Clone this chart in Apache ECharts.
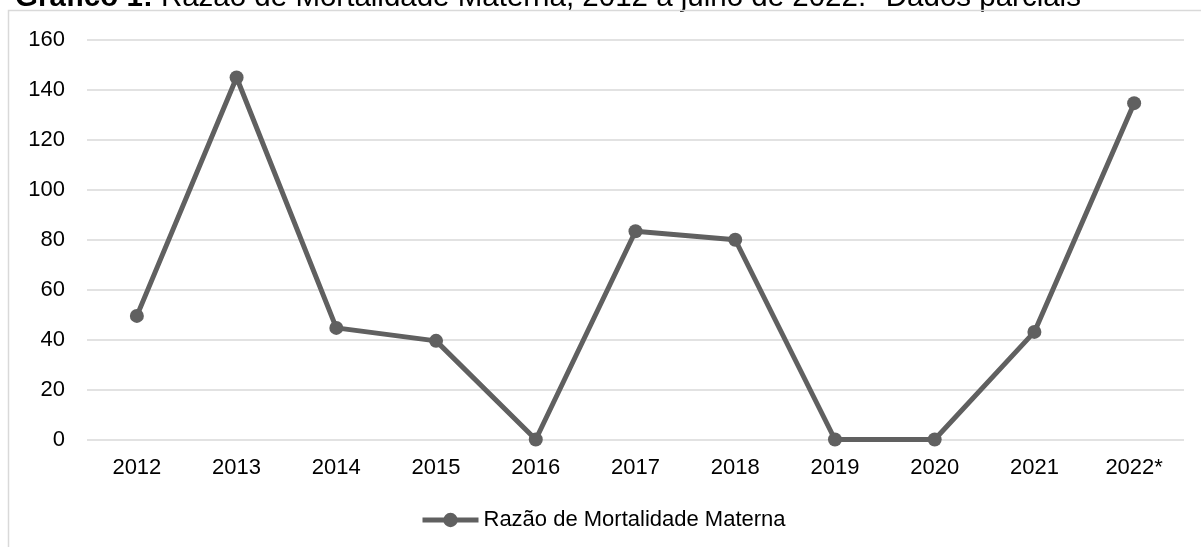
<!DOCTYPE html>
<html>
<head>
<meta charset="utf-8">
<script src="https://cdn.jsdelivr.net/npm/echarts@6/dist/echarts.min.js"></script>
<style>html,body{margin:0;padding:0;background:#fff}#c{width:1201px;height:547px}</style>
</head>
<body>
<div id="c"></div>
<script>
const categories = ['2012','2013','2014','2015','2016','2017','2018','2019','2020','2021','2022*'];
const values = [49.5, 145, 44.7, 39.5, 0, 83.4, 80, 0, 0, 43.1, 134.7];
const seriesName = 'Razão de Mortalidade Materna';
const FONT = '"Liberation Sans", Arial, sans-serif';
const chart = echarts.init(document.getElementById('c'));
chart.setOption({
  animation: false,
  title: {
    left: 15, top: -17, padding: 0,
    text: '{b|Gráfico 1:} Razão de Mortalidade Materna, 2012 a julho de 2022. *Dados parciais',
    textStyle: {
      fontFamily: FONT, fontSize: 29.5, fontWeight: 'normal', color: '#000', lineHeight: 30,
      rich: { b: { fontFamily: FONT, fontSize: 29.5, fontWeight: 'bold', color: '#000', lineHeight: 30 } }
    }
  },
  graphic: [{
    type: 'polyline', silent: true, z: 100,
    shape: { points: [[8.5, 547], [8.5, 10.5], [1201, 10.5]] },
    style: { stroke: '#d9d9d9', lineWidth: 1.5, fill: null }
  }],
  grid: { left: 87, right: 17, top: 40, bottom: 107.5 },
  xAxis: {
    type: 'category', data: categories, boundaryGap: true,
    axisLine: { show: false }, axisTick: { show: false },
    axisLabel: { fontFamily: FONT, fontSize: 22, color: '#000', margin: 17 }
  },
  yAxis: {
    type: 'value', min: 0, max: 160, interval: 20,
    axisLine: { show: false }, axisTick: { show: false },
    axisLabel: { fontFamily: FONT, fontSize: 22, color: '#000', margin: 22 },
    splitLine: { lineStyle: { color: '#d9d9d9', width: 1.5 } }
  },
  legend: {
    left: 420, top: 509, padding: 0, itemWidth: 56, itemHeight: 18, itemGap: 6,
    data: [seriesName],
    lineStyle: { width: 5, color: '#606060' },
    itemStyle: { color: '#606060' },
    textStyle: { fontFamily: FONT, fontSize: 22, color: '#000', padding: [0,0,0,0] }
  },
  series: [{
    name: seriesName, type: 'line', data: values,
    symbol: 'circle', symbolSize: 14,
    lineStyle: { color: '#606060', width: 5 },
    itemStyle: { color: '#606060' }
  }]
});
</script>
</body>
</html>
